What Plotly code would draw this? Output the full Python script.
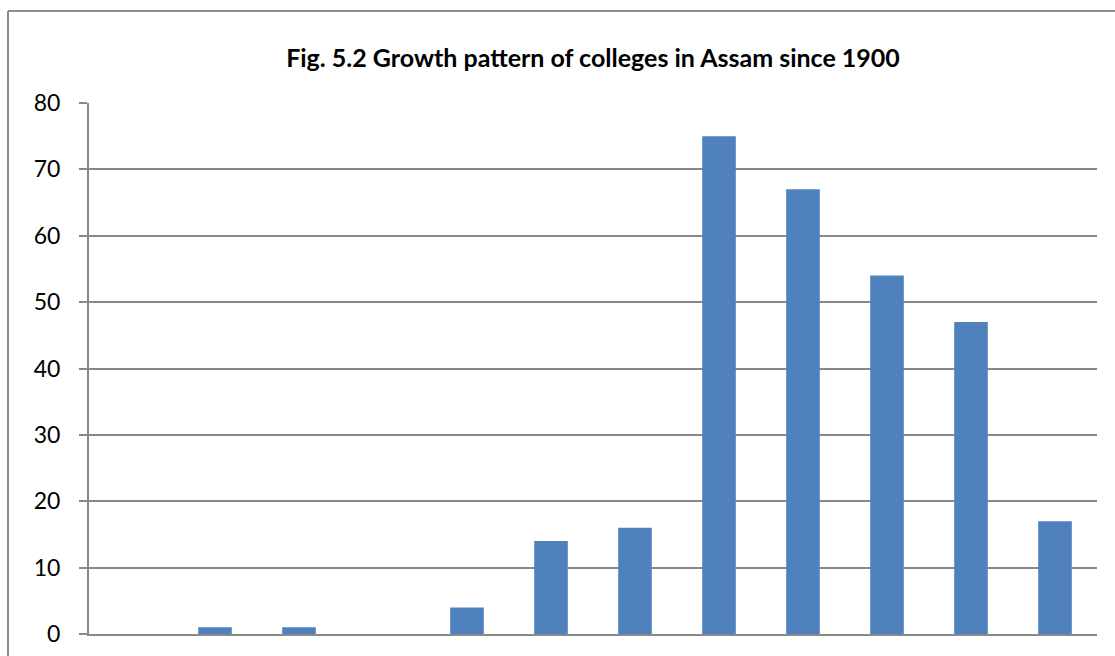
import plotly.graph_objects as go

categories = ["1900-1909", "1910-1919", "1920-1929", "1930-1939", "1940-1949", "1950-1959",
              "1960-1969", "1970-1979", "1980-1989", "1990-1999", "2000-2009", "2010-2019"]
colleges = [0, 1, 1, 0, 4, 14, 16, 75, 67, 54, 47, 17]
y_ticks = [0, 10, 20, 30, 40, 50, 60, 70, 80]

W, H = 1115, 656
L, R, T, B = 89, 1097, 103, 634

fig = go.Figure(go.Bar(x=categories, y=colleges, marker=dict(color="#4F81BD", line=dict(width=0))))

def px_x(p):
    return (p - L) / (R - L)

def px_y(p):
    return (B - p) / (B - T)

fig.update_layout(
    width=W, height=H,
    margin=dict(l=L, r=W - R, t=T, b=H - B, pad=0, autoexpand=False),
    paper_bgcolor="white", plot_bgcolor="white",
    bargap=0.6,
    showlegend=False,
    title=dict(text="<b>Fig. 5.2 Growth pattern of colleges in Assam since 1900</b>",
               x=0.5, xanchor="center", xref="paper", y=1 - 58 / H, yanchor="middle",
               font=dict(family="Lato", size=25, color="black")),
    xaxis=dict(showticklabels=False, showgrid=False, ticks="", showline=True, automargin=False,
               linecolor="#898989", linewidth=2, zeroline=False),
    yaxis=dict(range=[0, 80], tickvals=y_ticks, showgrid=True, gridcolor="#898989", gridwidth=1.6,
               ticks="outside", ticklen=8, tickcolor="#898989", tickwidth=1.6, automargin=False,
               showline=True, linecolor="#898989", linewidth=2, zeroline=False,
               tickfont=dict(family="Lato", size=23, color="black"), ticklabelstandoff=14),
    shapes=[dict(type="line", xref="paper", yref="paper",
                 x0=px_x(8), x1=px_x(W + 5), y0=px_y(11), y1=px_y(11),
                 line=dict(color="#8C8C8C", width=2)),
            dict(type="line", xref="paper", yref="paper",
                 x0=px_x(8), x1=px_x(8), y0=px_y(11), y1=px_y(H + 5),
                 line=dict(color="#8C8C8C", width=2))],
)

fig.write_html("out.html")
